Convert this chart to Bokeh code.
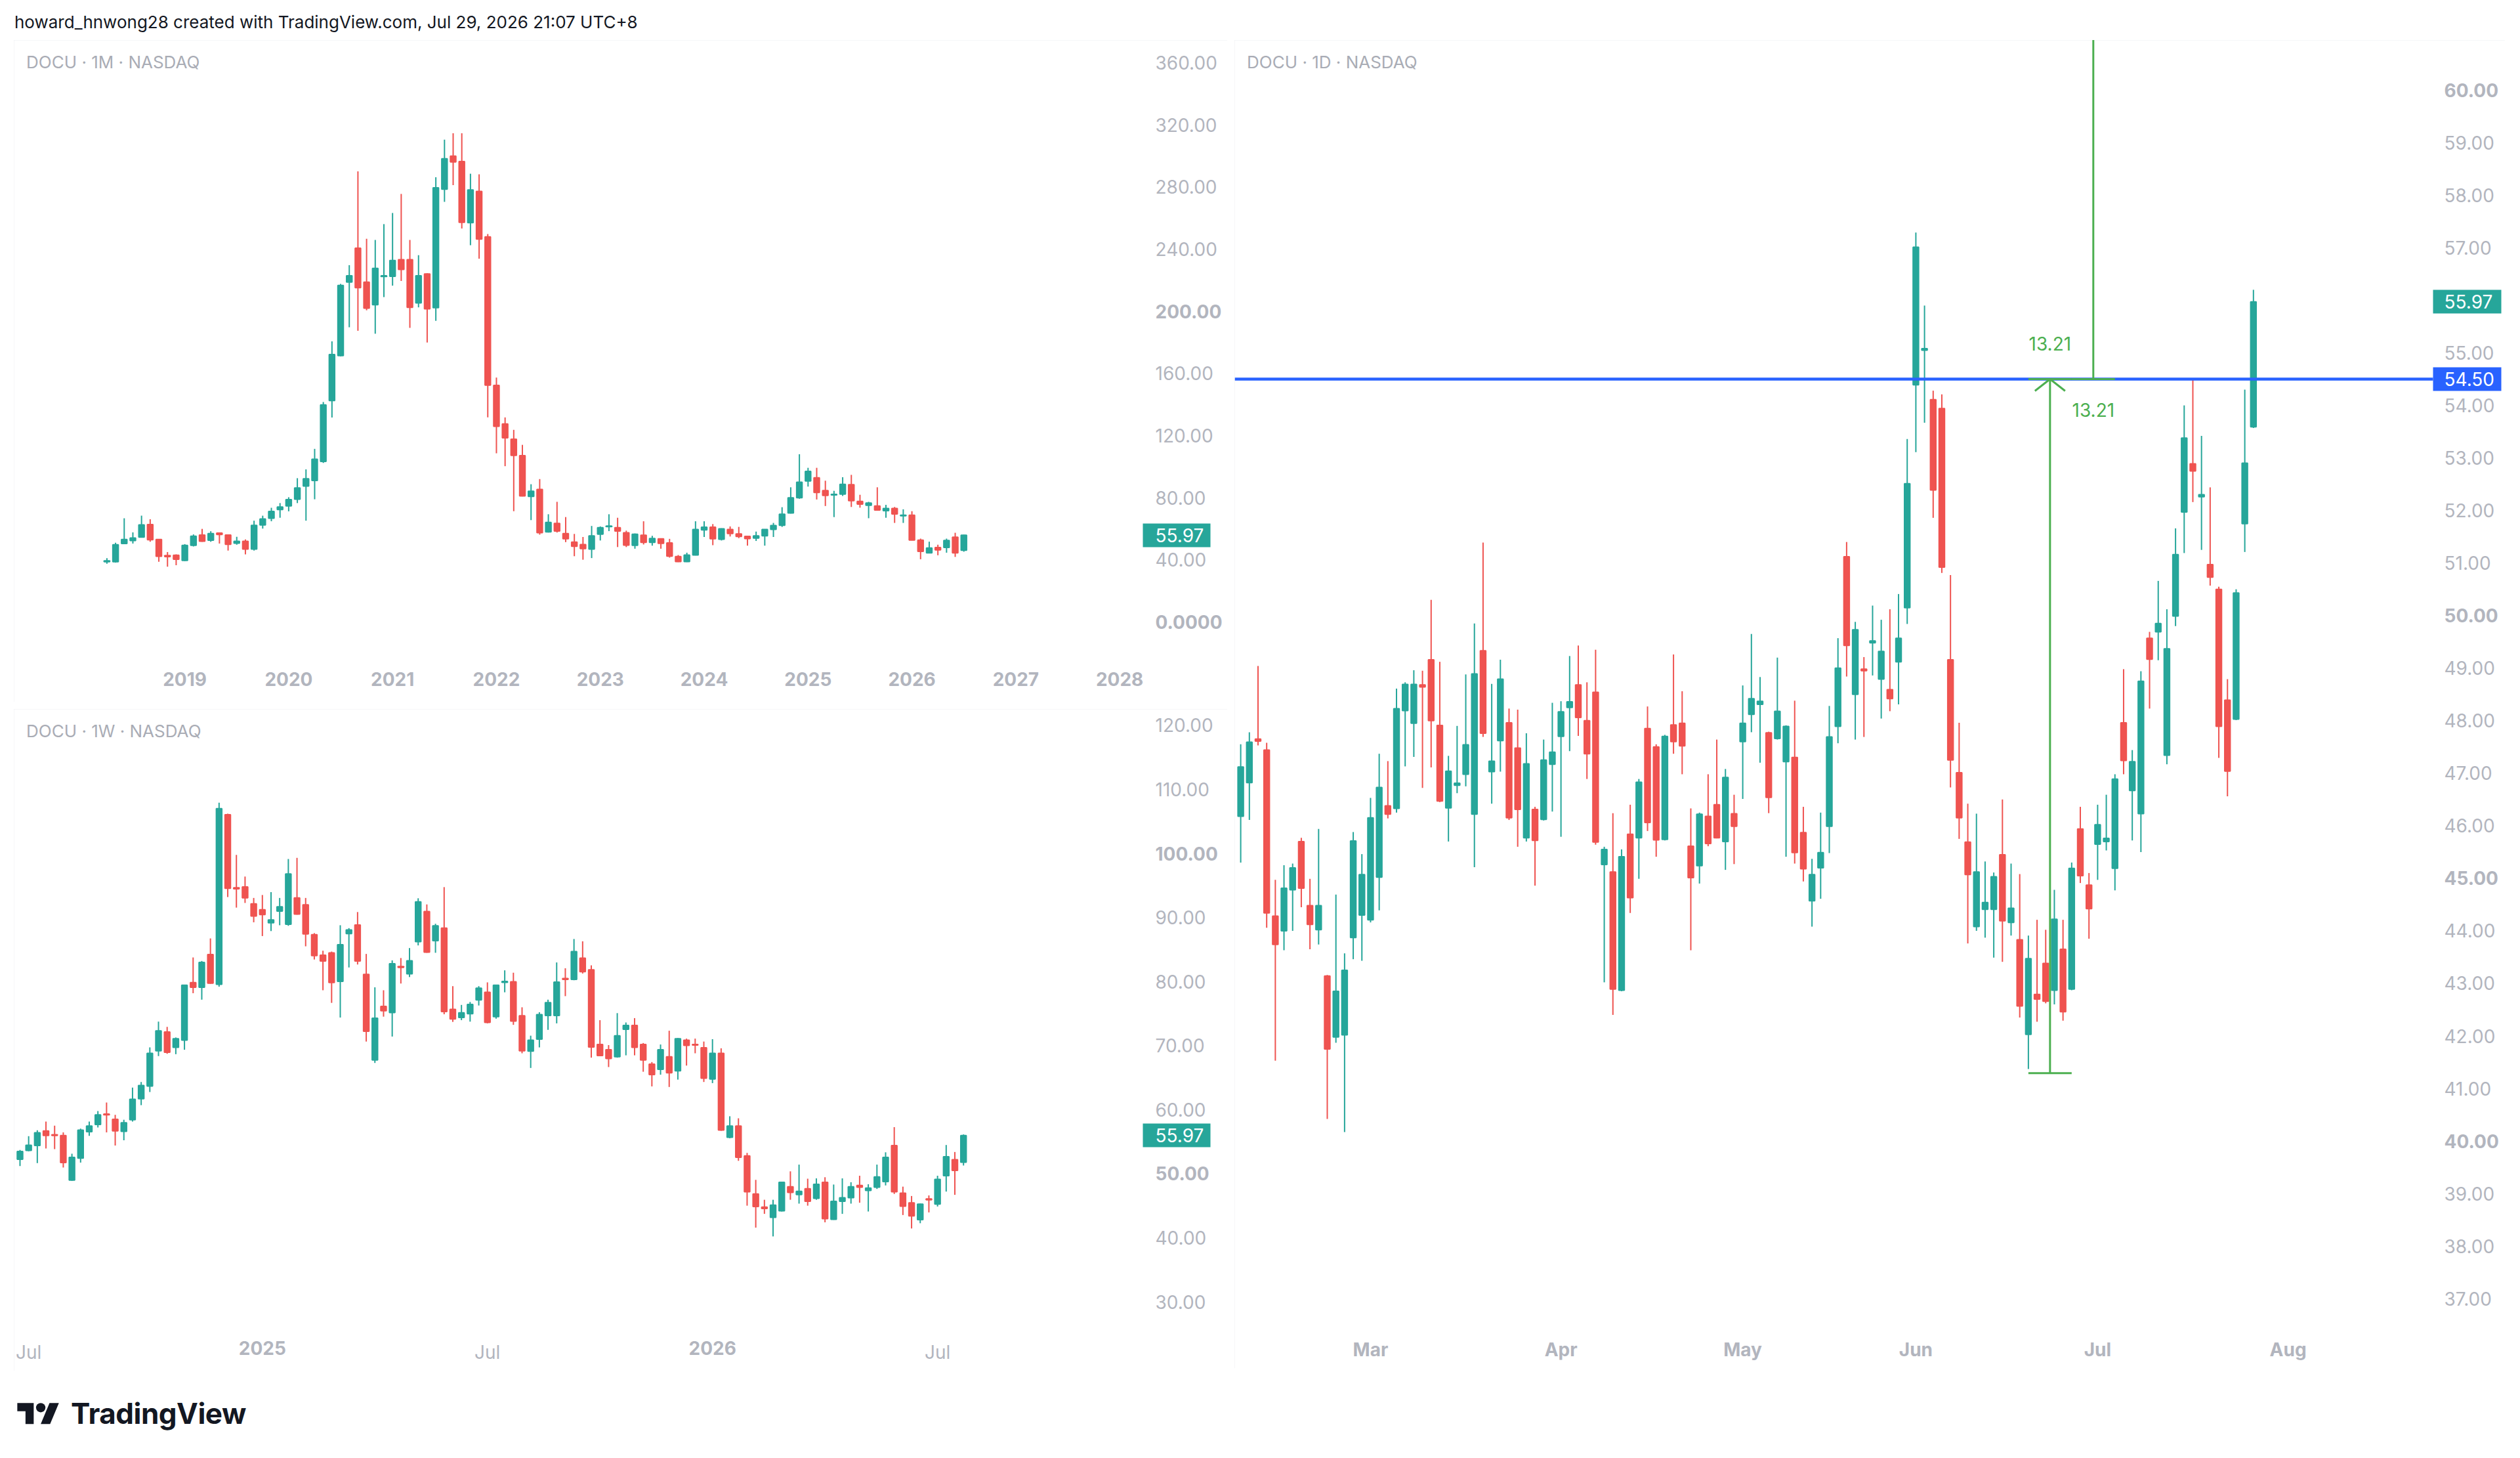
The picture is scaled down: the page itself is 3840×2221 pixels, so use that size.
from bokeh.plotting import figure
from bokeh.models import (Range1d, FixedTicker, Label, ColumnDataSource, Div, Spacer, LinearAxis)
from bokeh.layouts import row, column
from bokeh.embed import file_html
from bokeh.resources import INLINE

# ---------------- texts ----------------
header_text = "howard_hnwong28 created with TradingView.com, Jul 29, 2026 21:07 UTC+8"
titles = ["DOCU \u00b7 1M \u00b7 NASDAQ", "DOCU \u00b7 1W \u00b7 NASDAQ", "DOCU \u00b7 1D \u00b7 NASDAQ"]

# ---------------- monthly candles (Apr 2018 .. Jul 2026) ----------------
m_open = [38.87, 38.87, 50.56, 52.45, 54.71, 62.82, 53.20, 42.83, 43.02, 39.62,
          49.43, 56.03, 52.63, 57.35, 56.03, 50.75, 52.07, 46.98, 62.44, 66.78,
          72.44, 74.70, 79.04, 87.53, 91.11, 103.37, 142.59, 171.45, 218.79, 240.67,
          218.79, 204.27, 222.37, 222.56, 233.32, 233.32, 205.40, 224.08, 202.38, 278.58,
          299.90, 296.50, 257.08, 277.27, 248.00, 152.40, 127.50, 117.69, 107.13, 80.88,
          85.41, 58.09, 63.53, 57.04, 51.46, 49.95, 46.93, 56.59, 61.42, 60.81,
          57.49, 49.35, 55.98, 51.31, 53.57, 51.01, 42.25, 38.94, 43.16, 59.31,
          61.12, 53.27, 59.61, 56.74, 55.23, 54.02, 55.53, 59.61, 62.32, 70.16,
          79.97, 90.84, 92.95, 84.65, 81.79, 82.39, 88.43, 77.71, 75.15, 74.70,
          71.68, 73.19, 68.36, 68.81, 52.81, 44.51, 47.99, 47.99, 54.63, 46.18]
m_high = [41.13, 51.13, 66.78, 57.73, 68.48, 66.22, 53.40, 45.09, 43.58, 50.18,
          56.41, 59.99, 58.48, 57.73, 56.20, 54.90, 53.20, 65.27, 68.48, 73.57,
          76.59, 80.36, 92.62, 98.28, 111.48, 141.65, 180.69, 217.66, 229.73, 290.09,
          246.71, 245.95, 256.14, 263.31, 275.57, 245.95, 236.15, 224.50, 286.32, 310.46,
          314.61, 314.61, 288.58, 288.20, 249.80, 157.38, 131.73, 123.73, 114.07, 88.73,
          92.05, 69.41, 77.41, 67.60, 56.74, 54.78, 61.87, 61.57, 69.41, 67.15,
          58.85, 57.04, 64.89, 55.53, 53.80, 53.57, 43.16, 44.67, 64.89, 64.89,
          63.08, 60.36, 61.57, 61.27, 55.50, 58.25, 59.76, 63.83, 73.94, 86.76,
          108.04, 99.29, 99.29, 91.00, 84.50, 93.26, 94.76, 81.94, 77.41, 86.76,
          75.45, 74.09, 72.58, 71.37, 53.72, 51.76, 49.80, 53.72, 57.49, 56.20]
m_low = [37.54, 38.31, 50.18, 50.56, 54.50, 51.69, 38.87, 35.65, 36.60, 39.25,
         48.67, 51.69, 51.69, 50.56, 46.03, 49.80, 43.58, 46.03, 60.18, 64.89,
         67.16, 71.30, 76.59, 65.27, 79.04, 102.42, 131.66, 171.00, 189.75, 187.48,
         200.68, 185.60, 209.17, 216.53, 219.55, 189.37, 202.57, 179.94, 193.90, 270.47,
         281.23, 253.31, 242.56, 233.88, 131.80, 108.64, 100.34, 71.37, 80.90, 65.64,
         56.28, 57.64, 57.64, 51.46, 42.40, 40.14, 41.20, 52.52, 58.55, 48.29,
         48.29, 47.23, 49.95, 49.20, 47.23, 41.50, 38.63, 38.63, 42.90, 54.78,
         49.50, 52.52, 55.08, 54.02, 49.20, 52.22, 49.20, 54.78, 61.27, 69.86,
         79.37, 87.22, 78.92, 74.70, 67.60, 81.18, 74.09, 73.64, 66.85, 71.90,
         67.15, 63.83, 63.83, 52.60, 40.45, 44.30, 43.01, 44.67, 41.95, 45.30]
m_close = [39.43, 49.80, 53.20, 54.14, 62.63, 53.01, 42.26, 42.07, 40.38, 49.43,
           55.27, 52.07, 56.97, 56.41, 49.99, 52.07, 46.98, 62.25, 66.40, 71.30,
           74.13, 78.85, 86.39, 92.24, 104.88, 139.76, 172.21, 216.72, 222.94, 215.21,
           202.00, 227.66, 222.94, 232.75, 226.90, 202.57, 222.94, 201.63, 279.53, 298.20,
           296.13, 257.27, 278.21, 246.52, 152.50, 125.99, 118.60, 107.28, 81.18, 84.20,
           57.49, 64.13, 58.55, 53.57, 48.74, 47.23, 55.53, 60.81, 61.87, 58.55,
           49.50, 56.59, 51.31, 53.87, 50.70, 42.40, 38.94, 43.16, 59.61, 61.12,
           53.57, 60.06, 57.04, 55.08, 53.72, 55.53, 59.61, 62.17, 69.41, 79.97,
           90.08, 97.03, 83.45, 81.48, 82.24, 88.73, 78.17, 75.90, 76.65, 72.13,
           73.19, 69.57, 68.81, 52.81, 45.43, 47.68, 46.48, 52.52, 44.51, 55.97]
m_time_idx = [9, 21, 33, 45, 57, 69, 81, 93, 105, 117]
m_time_lbl = ["2019", "2020", "2021", "2022", "2023", "2024", "2025", "2026", "2027", "2028"]
m_price_ticks = [0, 40, 80, 120, 160, 200, 240, 280, 320, 360]
m_bold_prices = [0, 200]

# ---------------- weekly candles (late Jun 2024 .. Jul 2026) ----------------
w_open = [52.24, 53.62, 54.39, 56.68, 56.08, 55.95, 48.99, 52.43, 56.54, 57.69,
          59.33, 58.51, 56.59, 58.42, 61.71, 63.68, 69.17, 72.14, 69.72, 70.86,
          79.83, 79.10, 84.22, 79.55, 106.04, 94.65, 94.79, 92.13, 91.22, 89.16,
          90.99, 88.93, 93.05, 91.99, 87.33, 84.13, 84.49, 80.01, 87.47, 88.84,
          81.11, 67.75, 76.12, 75.16, 82.34, 81.20, 86.23, 90.94, 86.37, 88.34,
          75.66, 74.38, 74.98, 77.13, 78.32, 74.52, 79.87, 79.96, 74.66, 69.12,
          71.00, 74.70, 74.70, 80.47, 80.33, 83.67, 81.84, 70.17, 69.35, 68.25,
          72.55, 73.15, 70.17, 67.11, 66.28, 68.25, 66.06, 70.86, 70.17, 69.67,
          64.78, 68.80, 55.67, 57.46, 52.79, 46.84, 44.78, 43.18, 44.19, 47.98,
          46.75, 47.67, 46.16, 48.67, 42.86, 45.70, 46.25, 48.17, 47.39, 47.89,
          48.77, 54.39, 46.98, 45.47, 42.82, 46.07, 45.24, 49.68, 52.19, 51.78]
w_high = [53.71, 55.86, 56.77, 58.14, 57.50, 56.45, 53.11, 57.05, 58.14, 59.79,
          61.12, 59.20, 58.42, 63.45, 64.32, 69.72, 73.74, 72.92, 71.27, 79.51,
          83.76, 83.21, 86.73, 107.92, 106.20, 99.77, 96.39, 93.05, 93.51, 93.96,
          93.05, 99.13, 99.31, 93.05, 87.56, 84.81, 84.68, 88.79, 88.34, 90.85,
          84.31, 79.10, 78.64, 83.30, 83.67, 85.23, 93.00, 92.04, 89.02, 94.74,
          79.28, 76.35, 76.81, 79.28, 79.87, 79.50, 81.75, 81.38, 75.98, 71.55,
          75.21, 77.17, 82.98, 82.07, 86.64, 86.28, 82.53, 73.97, 70.08, 75.07,
          73.61, 74.29, 70.40, 67.43, 70.17, 72.32, 71.18, 71.09, 71.09, 70.63,
          71.00, 69.58, 58.97, 58.65, 53.25, 49.04, 45.93, 45.93, 48.76, 50.37,
          51.42, 49.22, 49.27, 49.45, 48.31, 49.27, 48.67, 49.68, 48.35, 51.42,
          53.34, 57.27, 47.98, 46.52, 45.33, 46.61, 49.68, 54.48, 53.39, 56.13]
w_low = [51.19, 53.50, 51.65, 53.94, 53.84, 50.96, 48.90, 51.74, 55.90, 57.23,
         56.45, 54.39, 55.22, 58.14, 60.70, 62.76, 68.35, 68.71, 68.66, 69.35,
         78.18, 77.17, 79.65, 79.19, 93.19, 91.54, 92.27, 89.25, 87.10, 87.88,
         88.79, 88.70, 90.44, 85.50, 83.44, 78.64, 76.67, 74.38, 82.20, 82.66,
         70.63, 67.29, 74.52, 71.41, 79.69, 80.70, 85.64, 84.49, 84.49, 74.89,
         73.70, 73.97, 73.74, 76.26, 73.47, 74.20, 78.32, 73.24, 68.80, 66.51,
         69.72, 72.46, 73.47, 77.72, 80.20, 81.25, 68.12, 68.34, 66.65, 68.12,
         68.48, 68.48, 65.92, 63.63, 65.46, 63.54, 64.69, 66.88, 68.80, 64.32,
         64.14, 56.70, 55.53, 52.01, 45.01, 41.58, 43.73, 40.21, 44.10, 45.93,
         45.33, 45.01, 45.93, 42.41, 42.80, 43.73, 45.33, 45.47, 44.10, 47.62,
         48.17, 46.84, 43.55, 41.45, 42.27, 43.96, 44.88, 47.21, 46.70, 51.28]
w_close = [53.48, 54.44, 56.41, 55.95, 55.95, 51.74, 52.56, 56.82, 57.46, 59.20,
           59.20, 56.68, 57.96, 61.62, 63.77, 68.80, 72.32, 68.94, 71.09, 79.42,
           79.10, 82.98, 79.74, 107.00, 94.56, 94.47, 93.05, 90.21, 90.44, 89.62,
           91.68, 96.80, 90.53, 87.42, 84.04, 83.21, 79.83, 85.77, 88.06, 83.21,
           72.23, 74.29, 75.44, 82.80, 82.20, 83.26, 92.45, 84.59, 88.70, 75.30,
           74.15, 75.12, 76.44, 78.96, 73.61, 79.42, 80.01, 73.83, 69.17, 70.86,
           74.84, 76.72, 79.92, 80.33, 84.68, 81.52, 69.76, 68.44, 67.98, 71.55,
           73.15, 69.72, 67.75, 65.46, 69.35, 65.74, 71.09, 70.04, 70.08, 64.91,
           68.80, 56.82, 57.46, 52.56, 47.17, 44.88, 44.56, 45.11, 48.67, 47.07,
           47.25, 45.70, 48.35, 42.96, 45.70, 46.25, 47.98, 47.89, 47.76, 49.50,
           52.56, 47.17, 44.92, 43.41, 45.24, 45.93, 49.13, 52.65, 50.50, 55.97]
w_time_idx = [1, 28, 54, 80, 106]
w_time_lbl = ["Jul", "2025", "Jul", "2026", "Jul"]
w_bold_time = [28, 80]
w_price_ticks = [30, 40, 50, 60, 70, 80, 90, 100, 110, 120]
w_bold_prices = [50, 100]

# ---------------- daily candles (Feb 6 2026 .. Jul 28 2026) ----------------
d_open = [46.18, 46.82, 47.65, 47.44, 44.28, 44.00, 44.78, 45.70, 44.48, 44.02,
          43.14, 41.98, 42.02, 43.87, 44.30, 44.21, 45.02, 46.38, 46.33, 48.19,
          47.95, 48.68, 49.16, 47.91, 46.34, 46.77, 46.98, 46.22, 49.33, 47.03,
          47.62, 47.96, 47.48, 45.77, 46.31, 46.12, 47.17, 47.70, 48.25, 48.68,
          48.00, 48.54, 45.26, 45.12, 42.87, 45.84, 45.77, 47.85, 47.50, 45.74,
          47.92, 47.95, 45.61, 45.24, 46.18, 46.40, 45.70, 46.23, 47.60, 48.12,
          48.31, 47.77, 47.66, 47.22, 47.30, 45.87, 44.57, 45.20, 45.99, 47.89,
          51.12, 48.50, 48.98, 49.48, 48.79, 48.59, 49.12, 50.15, 54.39, 55.05,
          54.11, 53.94, 49.16, 47.01, 45.69, 44.08, 44.41, 44.41, 45.45, 44.16,
          43.83, 42.03, 42.79, 43.38, 42.87, 43.65, 42.89, 45.94, 44.87, 45.65,
          45.70, 45.19, 47.96, 46.67, 46.23, 49.57, 49.69, 47.34, 49.99, 51.97,
          52.89, 52.26, 50.97, 50.50, 48.39, 48.03, 51.75, 53.59]
d_high = [47.55, 47.78, 49.04, 47.58, 44.97, 45.25, 45.28, 45.77, 44.99, 45.94,
          43.16, 44.69, 43.57, 45.88, 45.46, 46.53, 47.37, 47.23, 48.61, 48.73,
          48.96, 48.95, 50.30, 49.12, 47.33, 47.90, 48.88, 49.85, 51.39, 48.70,
          49.16, 48.23, 48.21, 47.76, 46.36, 47.64, 48.34, 48.37, 49.23, 49.43,
          48.73, 49.35, 45.60, 46.24, 45.55, 46.40, 46.89, 48.27, 47.55, 47.73,
          49.26, 48.56, 46.33, 46.25, 46.98, 47.64, 47.08, 46.59, 48.67, 49.65,
          48.83, 47.79, 49.20, 47.91, 48.38, 46.36, 45.37, 46.25, 48.28, 49.57,
          51.40, 49.88, 49.21, 50.19, 49.92, 50.12, 50.41, 53.36, 57.29, 55.90,
          54.28, 54.21, 50.77, 47.96, 46.42, 46.23, 45.32, 45.11, 46.50, 45.28,
          45.08, 43.91, 44.21, 44.02, 44.78, 44.21, 45.30, 46.36, 45.10, 46.40,
          46.59, 46.98, 48.98, 47.44, 48.94, 49.69, 50.66, 50.12, 51.66, 54.00,
          54.50, 53.42, 52.44, 50.55, 48.79, 50.50, 54.30, 56.20]
d_low = [45.30, 46.11, 47.53, 44.06, 41.53, 43.63, 44.00, 44.45, 43.65, 43.74,
         40.42, 41.87, 40.17, 43.46, 43.43, 44.16, 44.39, 46.14, 46.25, 47.13,
         47.31, 46.72, 47.11, 46.45, 45.70, 46.62, 46.75, 45.21, 47.69, 46.42,
         47.03, 46.11, 45.60, 45.70, 44.86, 46.10, 46.27, 45.79, 47.42, 47.71,
         46.89, 45.64, 43.02, 42.40, 42.85, 44.34, 44.99, 45.90, 45.41, 45.72,
         47.37, 46.98, 43.63, 44.90, 45.61, 45.76, 45.16, 45.27, 46.51, 47.78,
         47.20, 46.24, 47.64, 45.41, 45.28, 44.94, 44.08, 44.61, 45.48, 47.57,
         48.84, 47.64, 47.69, 48.86, 48.04, 48.18, 48.31, 49.84, 53.11, 53.67,
         51.86, 50.81, 46.73, 45.75, 43.76, 44.00, 43.87, 43.49, 43.41, 43.91,
         42.35, 41.37, 42.27, 42.62, 42.60, 42.29, 42.87, 44.91, 43.85, 44.97,
         45.53, 44.77, 46.98, 45.72, 45.50, 48.23, 49.15, 47.17, 49.80, 51.19,
         52.16, 51.25, 50.57, 47.29, 46.56, 48.01, 51.21, 53.57]
d_close = [47.12, 47.59, 47.61, 44.34, 43.74, 44.81, 45.20, 44.81, 44.12, 44.48,
           41.75, 42.85, 43.25, 45.71, 45.07, 46.15, 46.73, 46.22, 48.23, 48.69,
           48.69, 48.64, 48.00, 46.47, 47.04, 46.81, 47.54, 48.89, 47.76, 47.23,
           48.79, 46.15, 46.31, 47.18, 45.72, 47.25, 47.40, 48.17, 48.36, 48.06,
           47.37, 45.69, 45.55, 42.89, 45.41, 44.63, 46.83, 46.06, 45.73, 47.70,
           47.60, 47.52, 45.01, 46.22, 45.66, 45.77, 46.92, 45.99, 47.95, 48.42,
           48.37, 46.54, 48.18, 47.89, 45.49, 45.18, 45.07, 45.49, 47.69, 49.00,
           49.43, 49.73, 48.95, 49.52, 49.32, 48.42, 49.57, 52.51, 57.01, 55.08,
           52.39, 50.92, 47.25, 46.15, 45.07, 45.12, 44.54, 45.03, 44.19, 44.43,
           42.57, 43.47, 42.70, 42.66, 44.22, 42.46, 45.19, 45.05, 44.42, 46.02,
           45.76, 46.89, 47.24, 47.22, 48.75, 49.17, 49.85, 49.37, 51.16, 53.38,
           52.75, 52.30, 50.73, 47.89, 47.04, 50.43, 52.90, 55.97]
d_time_idx = [15, 37, 58, 78, 99, 121]
d_time_lbl = ["Mar", "Apr", "May", "Jun", "Jul", "Aug"]
d_price_ticks = [37, 38, 39, 40, 41, 42, 43, 44, 45, 46, 47, 48, 49, 50, 51, 52, 53, 54, 55, 57, 58, 59, 60]
d_bold_prices = [40, 45, 50, 60]

# drawings on the daily chart
level = 54.50          # horizontal line
measure = 13.21        # measured range (low -> level), projected upward
measure_bar = 91       # bar index where the measurement starts (swing low)
measure_len = 5        # bars covered by each part of the tool

# ---------------- styling ----------------
UP, DOWN = "#26a69a", "#ef5350"
LBL = "#b2b5be"
FONT = "Inter"
FS = "28px"
BOTTOM = 66
TOOL = "#4caf50"
BLUE = "#2962ff"


def fmt_price(v):
    return "0.0000" if v == 0 else f"{v:.2f}"


def add_axis(p, side, loc, ticks, texts, color, standoff, bold=False,
             tick_len=0, tick_w=1, tick_color=None):
    # axis pinned to the edge of the chart area (price scale / time scale of the pane)
    ax = LinearAxis(fixed_location=loc, ticker=FixedTicker(ticks=ticks),
                    major_label_overrides={t: s for t, s in zip(ticks, texts)},
                    axis_line_color=None, minor_tick_line_color=None,
                    major_tick_in=0, major_tick_out=tick_len,
                    major_tick_line_color=tick_color, major_tick_line_width=tick_w,
                    major_label_standoff=standoff, major_label_text_font=FONT,
                    major_label_text_font_size=FS, major_label_text_color=color,
                    major_label_text_font_style="bold" if bold else "normal")
    p.add_layout(ax, side)
    return ax


def build(width, height, chart_xr, chart_yr, right_border, title, o, h, l, c,
          price_ticks, bold_prices, t_idx, t_lbl, t_bold, t_bold_all, standoff, tag_w):
    chart_w = width - right_border
    chart_h = height - BOTTOM
    dx = (chart_xr[1] - chart_xr[0]) / chart_w
    dy = (chart_yr[1] - chart_yr[0]) / chart_h
    xr = (chart_xr[0], chart_xr[1] + right_border * dx)
    yr = (chart_yr[0] - BOTTOM * dy, chart_yr[1])
    p = figure(width=width, height=height, x_range=Range1d(*xr), y_range=Range1d(*yr),
               output_backend="svg", toolbar_location=None,
               x_axis_location=None, y_axis_location=None,
               min_border_left=0, min_border_top=0, min_border_right=0, min_border_bottom=0,
               margin=0, background_fill_color="white", border_fill_color="white",
               outline_line_color=None)
    p.xgrid.visible = False
    p.ygrid.visible = False
    p.styles = {"outline": "2px solid #eceef2", "outline-offset": "-2px"}

    x = list(range(len(o)))
    src = ColumnDataSource(dict(
        x=x, high=h, low=l,
        top=[max(a, b) for a, b in zip(o, c)],
        bottom=[min(a, b) for a, b in zip(o, c)],
        color=[UP if b >= a else DOWN for a, b in zip(o, c)]))
    p.segment(x0="x", y0="high", x1="x", y1="low", line_color="color", line_width=2, source=src)
    p.vbar(x="x", width=0.64, top="top", bottom="bottom", fill_color="color",
           line_color="color", line_width=2, source=src)

    # price scale
    norm = [v for v in price_ticks if v not in bold_prices]
    add_axis(p, "right", chart_xr[1], norm, [fmt_price(v) for v in norm], LBL, standoff)
    add_axis(p, "right", chart_xr[1], bold_prices, [fmt_price(v) for v in bold_prices], LBL, standoff,
             bold=True)

    # time scale
    norm_t = [(i, s) for i, s in zip(t_idx, t_lbl) if i not in t_bold]
    bold_t = [(i, s) for i, s in zip(t_idx, t_lbl) if i in t_bold]
    add_axis(p, "below", chart_yr[0], [i for i, _ in norm_t], [s for _, s in norm_t], LBL, 20,
             bold=t_bold_all)
    if bold_t:
        add_axis(p, "below", chart_yr[0], [i for i, _ in bold_t], [s for _, s in bold_t], LBL, 20,
                 bold=True)

    # pane title
    p.add_layout(Label(x=chart_xr[0] + 18.6 * dx, y=chart_yr[1] - 33 * dy, text=title, text_font=FONT,
                       text_font_size="26px", text_color="#a9acb5",
                       text_align="left", text_baseline="middle"))
    return p, dx, dy


def price_tag(p, x_edge, price, color, standoff, box_w):
    # coloured box (a very thick tick) + white text on the price scale
    add_axis(p, "right", x_edge, [price], [""], None, 0, tick_len=box_w, tick_w=36, tick_color=color)
    add_axis(p, "right", x_edge, [price], [f"{price:.2f}"], "white", standoff)


m_xr, m_yr = (-10.72, 119.68), (-23.6, 374.4)
w_xr, w_yr = (-0.68, 129.72), (25.96, 122.50)
d_xr, d_yr = (-0.69, 137.75), (36.497, 60.947)

p1, _, _ = build(1849, 1008, m_xr, m_yr, 129, titles[0],
                 m_open, m_high, m_low, m_close, m_price_ticks, m_bold_prices,
                 m_time_idx, m_time_lbl, [], True, 19, 103)
price_tag(p1, m_xr[1], m_close[-1], UP, 19, 103)

p2, _, _ = build(1849, 1008, w_xr, w_yr, 129, titles[1],
                 w_open, w_high, w_low, w_close, w_price_ticks, w_bold_prices,
                 w_time_idx, w_time_lbl, w_bold_time, False, 19, 103)
price_tag(p2, w_xr[1], w_close[-1], UP, 19, 103)

p3, dx3, dy3 = build(1936, 2023, d_xr, d_yr, 110, titles[2],
                     d_open, d_high, d_low, d_close, d_price_ticks, d_bold_prices,
                     d_time_idx, d_time_lbl, [], True, 17, 104)

# horizontal level line across the chart area + tags
p3.segment(x0=[d_xr[0]], y0=[level], x1=[d_xr[1]], y1=[level], line_color=BLUE, line_width=4.5)
price_tag(p3, d_xr[1], d_close[-1], UP, 17, 104)
price_tag(p3, d_xr[1], level, BLUE, 17, 104)

# measurement / projection tool
low_pt = level - measure
a0 = measure_bar
a1 = measure_bar + measure_len
mid1 = (a0 + a1) / 2
b1 = a1 + measure_len
mid2 = (a1 + b1) / 2
hw, hd = 23 * dx3, 18 * dy3
tool = ColumnDataSource(dict(
    x0=[a0, mid1, a0, mid1 - hw, mid1, a1, mid2],
    y0=[low_pt, low_pt, level, level - hd, level, level, level],
    x1=[a1, mid1, a1, mid1, mid1 + hw, b1, mid2],
    y1=[low_pt, level, level, level, level - hd, level, level + measure]))
r = p3.segment(x0="x0", y0="y0", x1="x1", y1="y1", line_color=TOOL, line_width=3, source=tool)
r.level = "overlay"
p3.add_layout(Label(x=mid1, y=level, y_offset=54, text=f"{measure:.2f}", text_font=FONT,
                    text_font_size=FS, text_color=TOOL, text_align="center", text_baseline="middle"))
p3.add_layout(Label(x=mid2, y=level, y_offset=-47, text=f"{measure:.2f}", text_font=FONT,
                    text_font_size=FS, text_color=TOOL, text_align="center", text_baseline="middle"))

header = Div(text=f'<div style="padding-left:22px;line-height:68px;font-family:Inter;font-size:26px;'
                  f'color:#131722;white-space:nowrap">{header_text}</div>',
             width=3817, height=61, margin=0)

logo_svg = ('<svg style="position:absolute;left:26px;top:42px" width="65" height="50" viewBox="0 0 36 28">'
            '<path fill="#131722" d="M14 22H7V11H0V4h14v18zM28 22h-8l7.5-18h8L28 22z"></path>'
            '<circle fill="#131722" cx="20" cy="8" r="4"></circle></svg>')
footer = Div(text=f'<div style="position:relative;width:600px;height:117px">{logo_svg}'
                  f'<span style="position:absolute;left:108px;top:43px;font-family:Inter;font-weight:700;'
                  f'font-size:44px;line-height:44px;letter-spacing:-0.5px;color:#131722">TradingView</span></div>',
             width=3817, height=117, margin=0)

left = column(p1, Spacer(width=1849, height=11, margin=0), p2, margin=0)
body = row(Spacer(width=21, height=10, margin=0), left, Spacer(width=11, height=10, margin=0), p3, margin=0)
page = column(header, body, footer, margin=0)

open("out.html", "w").write(file_html(page, INLINE))
